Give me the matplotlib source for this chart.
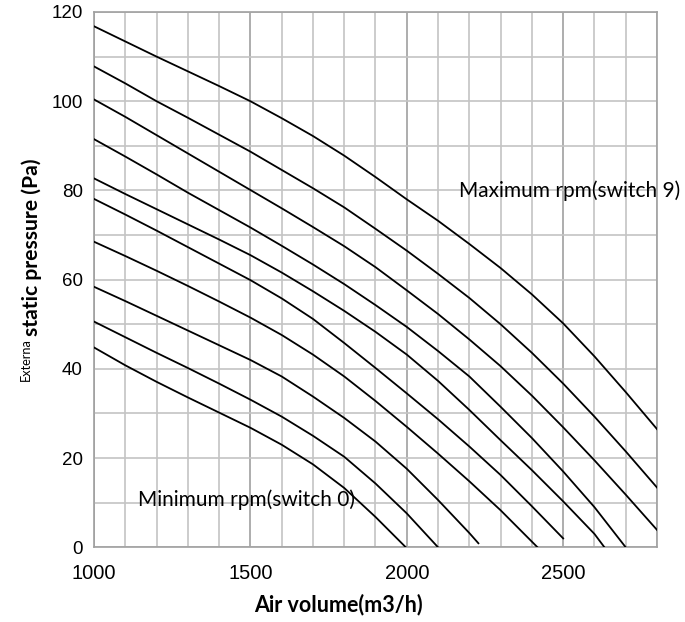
import matplotlib
matplotlib.use("Agg")
import matplotlib.pyplot as plt
from matplotlib.ticker import MultipleLocator

# Fan curves, switch 0 (lowest) .. switch 9 (highest)
x_0 = [1000, 1100, 1200, 1300, 1400, 1500, 1600, 1700, 1800, 1900, 1997]
y_0 = [44.8, 40.8, 37.1, 33.6, 30.2, 26.8, 23.0, 18.6, 13.3, 6.8, 0]

x_1 = [1000, 1100, 1200, 1300, 1400, 1500, 1600, 1700, 1800, 1900, 2000, 2100]
y_1 = [50.6, 47.1, 43.6, 40.2, 36.7, 33.1, 29.3, 25.0, 20.3, 14.3, 7.6, 0]

x_2 = [1000, 1100, 1200, 1300, 1400, 1500, 1600, 1700, 1800, 1900, 2000, 2100, 2200, 2229]
y_2 = [58.4, 55.2, 51.9, 48.6, 45.3, 42.0, 38.3, 33.8, 29.0, 23.7, 17.6, 10.6, 3.2, 0.9]

x_3 = [1000, 1100, 1200, 1300, 1400, 1500, 1600, 1700, 1800, 1900, 2000, 2100, 2200, 2300, 2418]
y_3 = [68.5, 65.3, 62.0, 58.6, 55.1, 51.5, 47.6, 43.2, 38.3, 32.8, 27.0, 21.0, 14.8, 8.3, 0]

x_4 = [1000, 1100, 1200, 1300, 1400, 1500, 1600, 1700, 1800, 1900, 2000, 2100, 2200, 2300, 2400, 2500]
y_4 = [78.1, 74.6, 71.0, 67.3, 63.6, 59.9, 55.8, 51.2, 45.8, 40.2, 34.5, 28.7, 22.6, 16.2, 9.2, 2.0]

x_5 = [1000, 1100, 1200, 1300, 1400, 1500, 1600, 1700, 1800, 1900, 2000, 2100, 2200, 2300, 2400, 2500, 2600, 2632]
y_5 = [82.7, 79.2, 75.8, 72.4, 69.0, 65.5, 61.6, 57.4, 53.0, 48.3, 43.2, 37.3, 30.8, 24.0, 17.3, 10.3, 3.0, 0]

x_6 = [1000, 1100, 1200, 1300, 1400, 1500, 1600, 1700, 1800, 1900, 2000, 2100, 2200, 2300, 2400, 2500, 2600, 2700]
y_6 = [91.5, 87.6, 83.6, 79.5, 75.6, 71.7, 67.6, 63.4, 59.0, 54.3, 49.4, 44.0, 38.3, 31.5, 24.5, 17.0, 9.0, 0]

x_7 = [1000, 1100, 1200, 1300, 1400, 1500, 1600, 1700, 1800, 1900, 2000, 2100, 2200, 2300, 2400, 2500, 2600, 2700, 2800]
y_7 = [100.4, 96.5, 92.4, 88.3, 84.2, 80.1, 76.0, 71.8, 67.5, 62.8, 57.6, 52.3, 46.6, 40.6, 34.0, 26.9, 19.5, 11.8, 3.9]

x_8 = [1000, 1100, 1200, 1300, 1400, 1500, 1600, 1700, 1800, 1900, 2000, 2100, 2200, 2300, 2400, 2500, 2600, 2700, 2800]
y_8 = [107.8, 104.0, 100.0, 96.3, 92.5, 88.7, 84.6, 80.5, 76.2, 71.4, 66.5, 61.3, 55.9, 50.0, 43.6, 36.7, 29.3, 21.5, 13.4]

x_9 = [1000, 1100, 1200, 1300, 1400, 1500, 1600, 1700, 1800, 1900, 2000, 2100, 2200, 2300, 2400, 2500, 2600, 2700, 2800]
y_9 = [116.8, 113.4, 110.0, 106.7, 103.4, 100.0, 96.2, 92.2, 87.8, 83.0, 78.0, 73.2, 68.0, 62.6, 56.7, 50.2, 42.8, 34.8, 26.5]

curves = [(x_0, y_0), (x_1, y_1), (x_2, y_2), (x_3, y_3), (x_4, y_4),
          (x_5, y_5), (x_6, y_6), (x_7, y_7), (x_8, y_8), (x_9, y_9)]

x_ticks = [1000, 1500, 2000, 2500]
y_ticks = [0, 20, 40, 60, 80, 100, 120]

fig = plt.figure(figsize=(6.85, 6.22), dpi=100)
ax = fig.add_axes([94 / 685, 1 - 547.3 / 622, (657 - 94) / 685, (547.3 - 12) / 622])

for xs, ys in curves:
    ax.plot(xs, ys, color="black", linewidth=1.3, zorder=3)

ax.set_xlim(1000, 2800)
ax.set_ylim(0, 120)
ax.set_xticks(x_ticks)
ax.set_yticks(y_ticks)
ax.xaxis.set_minor_locator(MultipleLocator(100))
ax.yaxis.set_minor_locator(MultipleLocator(10))

# grid: light every 100 / 10, a bit darker at the labelled x values
ax.set_axisbelow(True)
ax.grid(True, which="minor", color="#c4c4c4", linewidth=1.2)
ax.grid(True, which="major", axis="y", color="#c4c4c4", linewidth=1.2)
ax.grid(True, which="major", axis="x", color="#a0a0a0", linewidth=1.2)

ax.tick_params(which="both", length=0)
ax.tick_params(axis="x", pad=12, labelsize=14.5)
ax.tick_params(axis="y", pad=8, labelsize=13.5)
for lab in ax.get_xticklabels() + ax.get_yticklabels():
    lab.set_fontfamily("Liberation Sans")

for s in ax.spines.values():
    s.set_color("#a0a0a0")
    s.set_linewidth(1.2)

ax.text(2167, 78.5, "Maximum rpm(switch 9)", family="Lato", fontsize=15,
        va="baseline", ha="left", clip_on=False)
ax.text(1142, 9.3, "Minimum rpm(switch 0)", family="Lato", fontsize=15,
        va="baseline", ha="left")

# axis labels placed like the original (slightly off-centre)
fig.text(338 / 685, 1 - 605 / 622, "Air volume(m3/h)", family="Lato",
         fontweight="bold", fontsize=15.5, ha="center", va="center")
fig.text(32 / 685, 1 - 336 / 622, "static pressure (Pa)", family="Lato",
         fontweight="bold", fontsize=15.2, rotation=90, ha="center", va="bottom")
fig.text(26 / 685, 1 - 338 / 622, "Externa", family="Lato",
         fontsize=9.2, rotation=90, ha="center", va="top")

fig.savefig("out.png", dpi=100)
